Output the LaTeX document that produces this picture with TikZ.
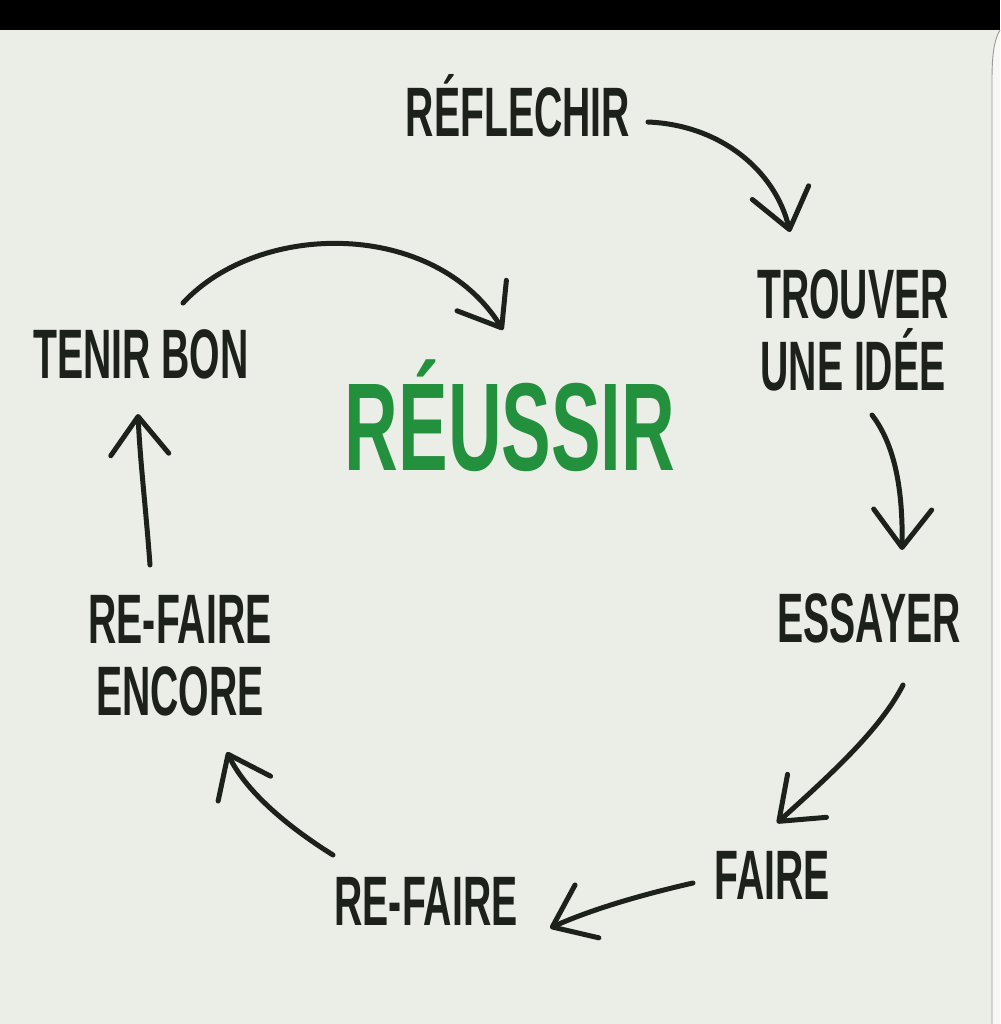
\documentclass[tikz,border=0pt]{standalone}
\usepackage{fontspec}
\usetikzlibrary{arrows.meta}
\newfontfamily\condfont[FakeStretch=0.56]{Liberation Sans}
\newfontfamily\condfontg[FakeStretch=0.595]{Liberation Sans}
\definecolor{bgc}{HTML}{EBEDE7}
\definecolor{inkc}{HTML}{1C211B}
\definecolor{greenc}{HTML}{23903D}
\tikzset{
  lbl/.style={inner sep=0pt, text=inkc, align=center, anchor=base,
    font={\condfont\bfseries\fontsize{70}{72}\selectfont}},
  bigword/.style={inner sep=0pt, text=greenc, anchor=base,
    font={\condfontg\bfseries\fontsize{125}{130}\selectfont}},
  handarrow/.style={draw=inkc, line width=5pt, line cap=round, line join=round,
    -{Straight Barb[length=38pt, width=58pt, line width=5pt, round]}}
}
\begin{document}
\begin{tikzpicture}[x=1pt, y=-1pt]
\useasboundingbox (0,0) rectangle (1000,1024);
\fill[bgc] (0,0) rectangle (1000,1024);
\fill[black] (0,0) rectangle (1000,30);
\fill[white!60!bgc] (1000,30) .. controls (994,40) and (992,55) .. (992,80) -- (992,1024) -- (1000,1024) -- cycle;
\draw[gray!80, line width=0.9pt] (1000,30) .. controls (994,40) and (992,55) .. (992,80) -- (992,1024);

\node[lbl] (reflechir) at (518,137) {RÉFLECHIR};
\node[lbl] (trouver) at (853,390) {TROUVER\\UNE IDÉE};
\node[lbl] (essayer) at (869,642) {ESSAYER};
\node[lbl] (faire) at (772,899) {FAIRE};
\node[lbl] (refaire) at (426,925) {RE-FAIRE};
\node[lbl] (encore) at (180,715) {RE-FAIRE\\ENCORE};
\node[lbl] (tenir) at (141,378) {TENIR BON};
\node[bigword] (reussir) at (510,470) {RÉUSSIR};

\coordinate (a1s) at (648,122); \coordinate (a1e) at (790,232);
\coordinate (a2s) at (872,415); \coordinate (a2e) at (902,550);
\coordinate (a3s) at (903,685); \coordinate (a3e) at (777,823);
\coordinate (a4s) at (693,883); \coordinate (a4e) at (550,928);
\coordinate (a5s) at (333,855); \coordinate (a5e) at (227,752);
\coordinate (a6s) at (150,565); \coordinate (a6e) at (138,414);
\coordinate (a7s) at (183,303); \coordinate (a7e) at (503,330);

\draw[handarrow] (a1s) .. controls (720,125) and (775,170) .. (a1e);
\draw[handarrow] (a2s) .. controls (895,445) and (903,490) .. (a2e);
\draw[handarrow] (a3s) .. controls (880,730) and (830,775) .. (a3e);
\draw[handarrow] (a4s) .. controls (640,895) and (590,910) .. (a4e);
\draw[handarrow] (a5s) .. controls (285,825) and (245,790) .. (a5e);
\draw[handarrow] (a6s) .. controls (146,510) and (140,460) .. (a6e);
\draw[handarrow] (a7s) .. controls (260,220) and (435,220) .. (a7e);
\end{tikzpicture}
\end{document}
